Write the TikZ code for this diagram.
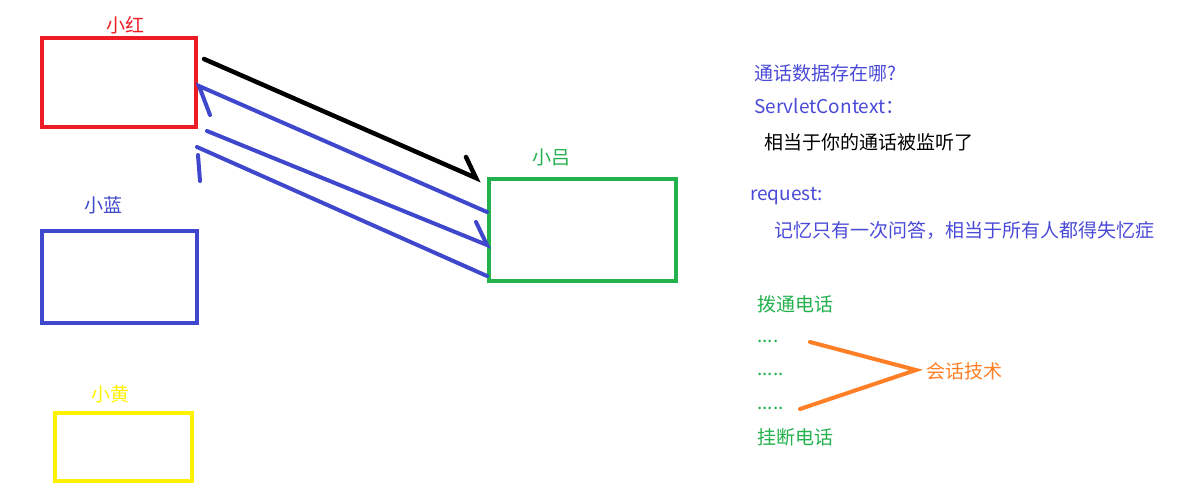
\documentclass[tikz,border=0pt]{standalone}
\usepackage{fontspec}
\newfontfamily\cjk{Noto Sans CJK SC}
\definecolor{pred}{HTML}{ED1C24}
\definecolor{pblue}{HTML}{3F48CC}
\definecolor{pgreen}{HTML}{22B14C}
\definecolor{pyellow}{HTML}{FFF200}
\definecolor{porange}{HTML}{FF7F27}
\definecolor{tblue}{HTML}{4A4AD8}

\begin{document}
\begin{tikzpicture}[x=1pt,y=-1pt,
  box/.style={rectangle,draw,line width=4.5pt},
  txt/.style={font=\cjk\fontsize{19}{21}\selectfont,inner sep=0pt},
  note/.style={txt,anchor=west},
  stroke/.style={line width=4pt,line cap=round}]
\useasboundingbox (0,0) rectangle (1192,484);

% the four people
\node[box,pred,minimum width=154pt,minimum height=89pt](hong) at (119,82.5){};
\node[box,pblue,minimum width=155pt,minimum height=92pt](lan) at (119.5,277){};
\node[box,pyellow,minimum width=137pt,minimum height=68pt](huang) at (123.5,447){};
\node[box,pgreen,minimum width=187pt,minimum height=102pt](lv) at (582.5,230){};
\node[txt,pred](hongl) at (125,25){小红};
\node[txt,pblue](lanl) at (103,205){小蓝};
\node[txt,pyellow](huangl) at (110,394){小黄};
\node[txt,pgreen](lvl) at (551,157){小吕};

% hand drawn arrows
\coordinate (a1) at (204,59);
\coordinate (a2) at (476,178);
\coordinate (a2h) at (466,157);
\coordinate (b1) at (487,212);
\coordinate (b2) at (199,86);
\coordinate (b2h) at (210,115);
\coordinate (c1) at (207,131);
\coordinate (c2) at (487,245);
\coordinate (c2h) at (476,222);
\coordinate (d1) at (487,276);
\coordinate (d2) at (197,147);
\coordinate (d3) at (198,155);
\coordinate (d3h) at (200,181);
\draw[stroke,black,line width=4.5pt] (a1) -- (a2) -- (a2h);
\draw[stroke,pblue] (b1) -- (b2) -- (b2h);
\draw[stroke,pblue] (c1) -- (c2) -- (c2h);
\draw[stroke,pblue] (d1) -- (d2);
\draw[stroke,pblue] (d3) -- (d3h);

% notes
\node[note,tblue](q) at (754,73){通话数据存在哪?};
\node[note,tblue](sc) at (754,106){ServletContext：};
\node[note,black](sc2) at (764,142){相当于你的通话被监听了};
\node[note,tblue](req) at (750,196){request:};
\node[note,tblue](req2) at (774,230){记忆只有一次问答，相当于所有人都得失忆症};

\node[note,pgreen](call) at (757,304){拨通电话};
\node[note,pgreen](dots1) at (757,341){....};
\node[note,pgreen](dots2) at (757,374){.....};
\node[note,pgreen](dots3) at (757,408){.....};
\node[note,pgreen](hang) at (757,437){挂断电话};
\node[note,porange](sess) at (926,371){会话技术};
\coordinate (o1) at (810,342);
\coordinate (o2) at (916,370);
\coordinate (o3) at (800,409);
\draw[stroke,porange] (o1) -- (o2) -- (o3);
\end{tikzpicture}
\end{document}
